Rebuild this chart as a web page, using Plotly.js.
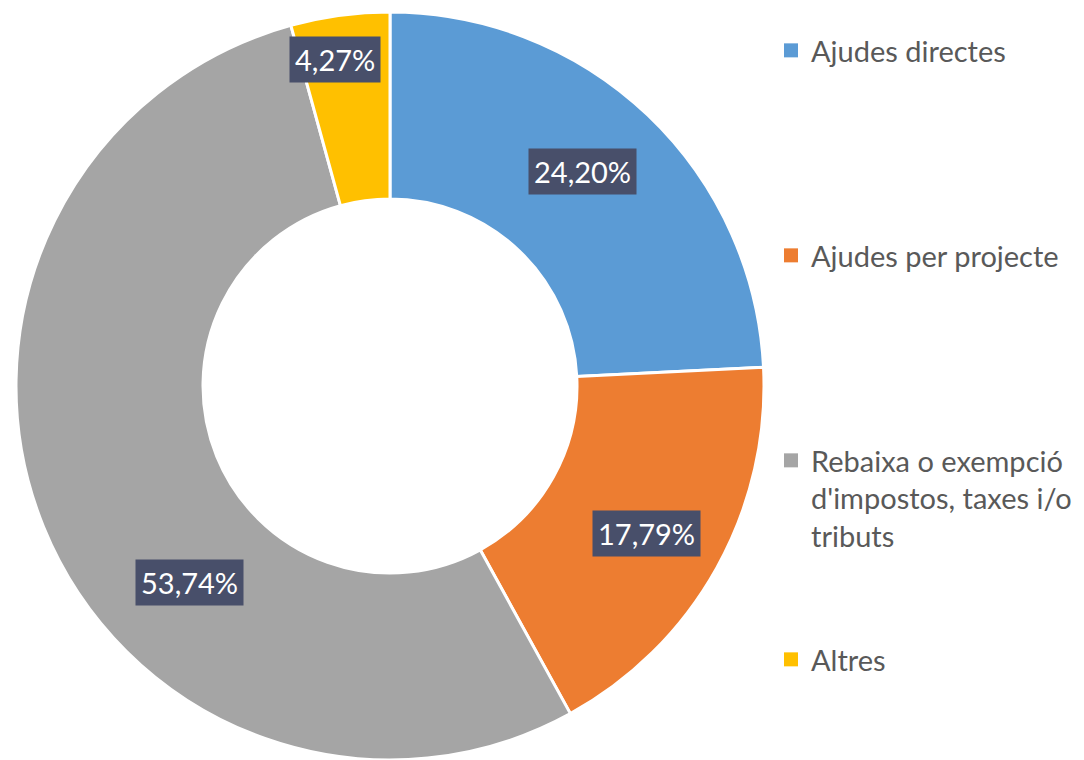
<!DOCTYPE html>
<html>
<head>
<meta charset="utf-8">
<script src="https://cdn.plot.ly/plotly-3.0.1.min.js"></script>
<style>html,body{margin:0;padding:0;background:#fff;}#chart{width:1084px;height:760px;}</style>
</head>
<body>
<div id="chart"></div>
<script>
// ---- data ----
const categories = ["Ajudes directes", "Ajudes per projecte", "Rebaixa o exempció d'impostos, taxes i/o tributs", "Altres"];
const legendLabels = ["Ajudes directes", "Ajudes per projecte", "Rebaixa o exempció<br>d'impostos, taxes i/o<br>tributs", "Altres"];
const values = [24.20, 17.79, 53.74, 4.27];
const valueLabels = ["24,20%", "17,79%", "53,74%", "4,27%"];

// ---- style ----
const colors = ["#5B9BD5", "#ED7D31", "#A5A5A5", "#FFC000"];
const W = 1084, H = 760;
const pieDomain = {x: [14 / W, 766 / W], y: [0, 1 - 12 / H]};
const labelRadius = [0.77, 0.79, 0.75, 0.885];   // fraction of outer radius
const labelAngleNudge = [-1.7, 0.7, -22.3, -1.8]; // degrees
const legendTops = [52, 257, 462, 661];            // first-line centre, px
const FONT = "Lato, 'Liberation Sans', sans-serif";

const traces = [{
  type: "pie",
  labels: categories,
  values: values,
  hole: 0.5,
  sort: false,
  direction: "clockwise",
  rotation: 0,
  domain: pieDomain,
  textinfo: "none",
  hoverinfo: "label+percent",
  showlegend: false,
  marker: {colors: colors, line: {color: "#ffffff", width: 3}}
}];

const legendNames = ["legend", "legend2", "legend3", "legend4"];
categories.forEach((c, i) => {
  traces.push({
    type: "scatter", mode: "markers", x: [null], y: [null],
    name: legendLabels[i], legend: legendNames[i], showlegend: true,
    marker: {symbol: "square", size: 14, color: colors[i]},
    hoverinfo: "skip"
  });
});

// label annotations from slice geometry
const total = values.reduce((a, b) => a + b, 0);
const dxPx = (pieDomain.x[1] - pieDomain.x[0]) * W;
const dyPx = (pieDomain.y[1] - pieDomain.y[0]) * H;
const R = Math.min(dxPx, dyPx) / 2;
const cx = (pieDomain.x[0] + pieDomain.x[1]) / 2 * W;
const cy = H - (pieDomain.y[0] + pieDomain.y[1]) / 2 * H;
let cum = 0;
const annotations = values.map((v, i) => {
  const mid = (cum + v / 2) / total * 360 + labelAngleNudge[i];
  cum += v;
  const a = mid * Math.PI / 180;
  const px = cx + labelRadius[i] * R * Math.sin(a);
  const py = cy - labelRadius[i] * R * Math.cos(a);
  return {
    xref: "paper", yref: "paper", x: px / W, y: 1 - py / H,
    xanchor: "center", yanchor: "middle", showarrow: false,
    text: valueLabels[i],
    font: {family: FONT, size: 29, color: "#ffffff"},
    bgcolor: "#484F6A", borderpad: 5
  };
});

const layout = {
  width: W, height: H,
  margin: {l: 0, r: 0, t: 0, b: 0},
  paper_bgcolor: "#ffffff", plot_bgcolor: "rgba(0,0,0,0)",
  xaxis: {visible: false}, yaxis: {visible: false},
  annotations: annotations,
  font: {family: FONT, color: "#595959"}
};
legendNames.forEach((ln, i) => {
  layout[ln] = {
    x: 771 / W, xanchor: "left",
    y: 1 - (legendTops[i] - 27) / H, yanchor: "top",
    valign: "top",
    bgcolor: "rgba(0,0,0,0)",
    font: {family: FONT, size: 29, color: "#595959"}
  };
});

Plotly.newPlot("chart", traces, layout, {displayModeBar: false, staticPlot: true});
</script>
</body>
</html>
